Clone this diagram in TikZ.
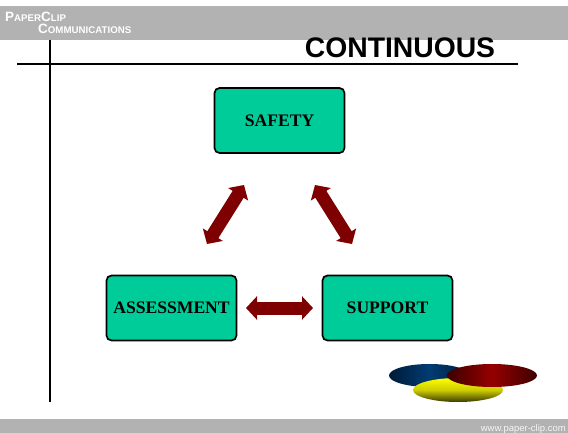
\documentclass[tikz,border=0pt]{standalone}
\usepackage{fontspec}
\setmainfont{Liberation Serif}
\setsansfont{Liberation Sans}
\usetikzlibrary{arrows.meta}
\definecolor{boxgreen}{HTML}{00CC99}
\definecolor{arrowred}{HTML}{7F0000}
\definecolor{bargray}{HTML}{B2B2B2}
\definecolor{logobluedark}{HTML}{001A38}
\definecolor{logoblue}{HTML}{003C73}
\definecolor{logoreddark}{HTML}{3C0000}
\definecolor{logored}{HTML}{960000}
\definecolor{logoyellowdark}{HTML}{3A3A00}
\newcommand{\bigsmall}[2]{{\fontsize{13.5}{13.5}\selectfont #1}{\fontsize{9.7}{9.7}\selectfont #2}}
\tikzset{
    stagebox/.style = {draw = black, line width = 1.7pt, fill = boxgreen, rounded corners = 5pt,
        minimum width = 130pt, minimum height = 65pt, inner sep = 0,
        font = \fontsize{17.6}{17.6}\selectfont\bfseries},
    blockarrow/.style = {arrowred, line width = 13pt,
        {Triangle[width = 23pt, length = 11pt]}-{Triangle[width = 23pt, length = 11pt]}},
    logotext/.style = {white, font = \sffamily\bfseries, inner sep = 0, anchor = base west}
}

\begin{document}
\begin{tikzpicture}[x = 1pt, y = -1pt]
    \useasboundingbox (0, 0) rectangle (568, 433);

    %% bars
    \fill[bargray] (0, 6) rectangle (568, 40);
    \fill[bargray] (0, 419) rectangle (568, 433);
    \node[logotext] (paperclip) at (5, 22) {\bigsmall{P}{APER}\bigsmall{C}{LIP}};
    \node[logotext] (communications) at (38, 34) {\bigsmall{C}{OMMUNICATIONS}};
    \node[white!88!bargray, font = \sffamily\fontsize{9.5}{9.5}\selectfont, inner sep = 0, anchor = base east]
        (website) at (566, 431) {www.paper-clip.com};

    %% title and rules
    \node[font = \sffamily\bfseries\fontsize{28.3}{28.3}\selectfont, inner sep = 0, anchor = base]
        (title) at (400, 58) {CONTINUOUS};
    \coordinate (ruleleft) at (17, 64);
    \coordinate (ruleright) at (518, 64);
    \coordinate (ruletop) at (50, 40);
    \coordinate (rulebottom) at (50, 402);
    \draw[line width = 2.2pt] (ruleleft) -- (ruleright);
    \draw[line width = 2.2pt] (ruletop) -- (rulebottom);

    %% boxes
    \node[stagebox] (safety) at (279.5, 120.5) {SAFETY};
    \node[stagebox] (assessment) at (171.5, 308) {ASSESSMENT};
    \node[stagebox] (support) at (387.5, 308) {SUPPORT};

    %% arrows
    \coordinate (safetyleft) at (244, 185);
    \coordinate (assessup) at (207, 244);
    \coordinate (safetyright) at (315, 185);
    \coordinate (supportup) at (352, 244);
    \coordinate (assessright) at (246, 308);
    \coordinate (supportleft) at (313, 308);
    \draw[blockarrow] (assessup) -- (safetyleft);
    \draw[blockarrow] (safetyright) -- (supportup);
    \draw[blockarrow] (assessright) -- (supportleft);

    %% logo
    \shade[left color = logobluedark, right color = logobluedark, middle color = logoblue]
        (429.5, 375.5) ellipse [x radius = 40.5, y radius = 11.5];
    \shade[top color = yellow, bottom color = logoyellowdark, middle color = yellow!80!black]
        (458, 390) ellipse [x radius = 45, y radius = 12];
    \shade[left color = logoreddark, right color = logoreddark, middle color = logored]
        (492, 375.5) ellipse [x radius = 45, y radius = 11.5];
\end{tikzpicture}
\end{document}
